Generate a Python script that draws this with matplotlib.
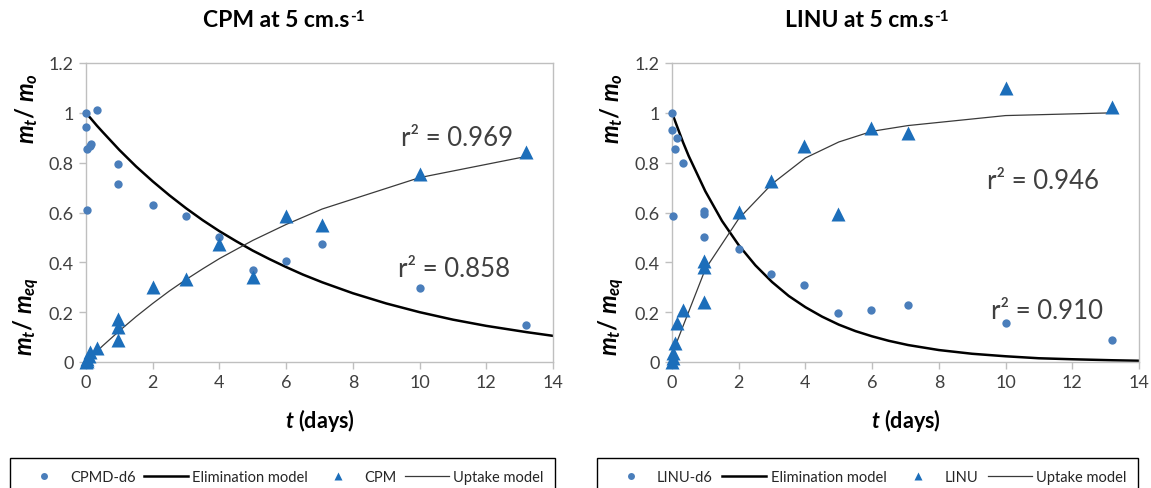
import matplotlib
matplotlib.use("Agg")
import matplotlib.pyplot as plt
from matplotlib.lines import Line2D

plt.rcParams['font.family'] = ['Lato', 'DejaVu Sans']
plt.rcParams['mathtext.fontset'] = 'custom'
plt.rcParams['mathtext.rm'] = 'Lato'
plt.rcParams['mathtext.it'] = 'Lato:italic:bold'
plt.rcParams['mathtext.bf'] = 'Lato:bold'

# ---------------- data: CPM panel ----------------
cpmd_t = [0, 0, 0.04, 0.12, 0.16, 0.32, 0.04, 0.97, 0.97, 2, 3, 4, 5, 6, 7.08, 10, 13.2]
cpmd_y = [1.0, 0.944, 0.856, 0.867, 0.875, 1.013, 0.612, 0.793, 0.713, 0.632, 0.585,
          0.50, 0.368, 0.405, 0.475, 0.297, 0.148]
cpm_t = [0, 0.02, 0.04, 0.08, 0.12, 0.33, 0.97, 0.97, 0.97, 2, 3, 4, 5, 6, 7.08, 10, 13.2]
cpm_y = [0, 0.005, 0.012, 0.025, 0.04, 0.058, 0.172, 0.142, 0.089, 0.303, 0.333,
         0.474, 0.342, 0.584, 0.55, 0.754, 0.843]
cpm_elim_t = [0, 0.33, 0.5, 1, 1.5, 2, 2.5, 3, 3.5, 4, 4.5, 5, 5.5, 6, 6.5, 7.08, 8, 9, 10,
              11, 12, 13.2, 14]
cpm_elim_y = [1.0, 0.948, 0.923, 0.851, 0.785, 0.725, 0.669, 0.617, 0.569, 0.525, 0.485,
              0.447, 0.413, 0.381, 0.351, 0.320, 0.276, 0.235, 0.200, 0.170, 0.145, 0.120, 0.105]
cpm_up_t = [0, 0.33, 0.5, 1, 1.5, 2, 2.5, 3, 3.5, 4, 5, 6, 7.08, 10, 13.2]
cpm_up_y = [0, 0.043, 0.065, 0.125, 0.182, 0.235, 0.285, 0.331, 0.374, 0.415, 0.488,
            0.552, 0.614, 0.740, 0.825]

# ---------------- data: LINU panel ----------------
linud_t = [0, 0, 0.16, 0.08, 0.34, 0.02, 0.97, 0.97, 0.97, 2, 2.97, 3.96, 4.98, 5.97, 7.07, 10, 13.2]
linud_y = [1.0, 0.933, 0.897, 0.854, 0.80, 0.585, 0.608, 0.593, 0.503, 0.452, 0.352,
           0.311, 0.195, 0.207, 0.23, 0.157, 0.087]
linu_t = [0, 0.02, 0.04, 0.08, 0.16, 0.34, 0.97, 0.97, 0.97, 2, 2.97, 3.96, 4.98, 5.97, 7.07, 10, 13.2]
linu_y = [0, 0.015, 0.035, 0.075, 0.156, 0.209, 0.407, 0.38, 0.239, 0.601, 0.725,
          0.868, 0.593, 0.94, 0.92, 1.10, 1.023]
linu_elim_t = [0, 0.33, 0.5, 1, 1.5, 2, 2.5, 3, 3.5, 4, 4.5, 5, 5.5, 6, 6.5, 7.08, 8, 9,
               10, 11, 12, 13.2, 14]
linu_elim_y = [1.0, 0.882, 0.827, 0.685, 0.566, 0.469, 0.388, 0.321, 0.265, 0.220, 0.182,
               0.150, 0.124, 0.103, 0.085, 0.068, 0.048, 0.033, 0.023, 0.015, 0.011, 0.007, 0.005]
linu_up_t = [0.08, 1, 2, 3, 4, 5, 6, 7.08, 10, 13.2]
linu_up_y = [0.058, 0.373, 0.575, 0.715, 0.819, 0.883, 0.926, 0.949, 0.989, 1.0]

x_ticks = [0, 2, 4, 6, 8, 10, 12, 14]
y_ticks = [0, 0.2, 0.4, 0.6, 0.8, 1.0, 1.2]
y_ticklabels = ['0', '0.2', '0.4', '0.6', '0.8', '1', '1.2']

panels = [
    dict(title='CPM at 5 cm.s', d6=(cpmd_t, cpmd_y), par=(cpm_t, cpm_y),
         elim=(cpm_elim_t, cpm_elim_y), up=(cpm_up_t, cpm_up_y),
         r2=[('r² = 0.969', 9.45, 0.903), ('r² = 0.858', 9.35, 0.377)],
         labels=['CPMD-d6', 'Elimination model', 'CPM', 'Uptake model']),
    dict(title='LINU at 5 cm.s', d6=(linud_t, linud_y), par=(linu_t, linu_y),
         elim=(linu_elim_t, linu_elim_y), up=(linu_up_t, linu_up_y),
         r2=[('r² = 0.946', 9.45, 0.727), ('r² = 0.910', 9.55, 0.205)],
         labels=['LINU-d6', 'Elimination model', 'LINU', 'Uptake model']),
]

W, H = 1151, 489
fig = plt.figure(figsize=(W / 100, H / 100), dpi=100)
renderer = fig.canvas.get_renderer()

circ_c = '#4A7EBB'
tri_c = '#1C6EBA'
grid_c = '#BFBFBF'
txt_c = '#404040'

ax_lefts = [86, 672]
legend_boxes = [(10, 555), (597, 1138)]
title_cx = [276, 859]
ylab_x = [27, 612]

for i, p in enumerate(panels):
    ax = fig.add_axes([ax_lefts[i] / W, 126 / H, 467 / W, 299 / H])
    ax.plot(p['elim'][0], p['elim'][1], color='black', lw=1.8, zorder=2)
    ax.plot(p['up'][0], p['up'][1], color='#3A3A3A', lw=0.9, zorder=2)
    ax.plot(p['d6'][0], p['d6'][1], 'o', color=circ_c, ms=6, mec='none', clip_on=False, zorder=3)
    ax.plot(p['par'][0], p['par'][1], '^', color=tri_c, ms=10.5, mec='none', clip_on=False, zorder=3)
    ax.set_xlim(0, 14)
    ax.set_ylim(0, 1.2)
    ax.set_xticks(x_ticks)
    ax.set_xticklabels([str(v) for v in x_ticks])
    ax.set_yticks(y_ticks)
    ax.set_yticklabels(y_ticklabels)
    for s in ax.spines.values():
        s.set_color(grid_c)
        s.set_linewidth(1.0)
    ax.tick_params(direction='out', length=5, width=1, color=grid_c, labelcolor=txt_c,
                   labelsize=13, pad=4)
    ax.set_xlabel(r'$t$ (days)', fontsize=15.5, fontweight='bold', color='black', labelpad=11)
    for (txt, tx, ty) in p['r2']:
        ax.text(tx, ty, txt, fontsize=18.5, color=txt_c, va='center', ha='left')

    # title with superscript -1
    tt = fig.text(title_cx[i] / W, 1 - 27 / H, p['title'], fontsize=16.5, fontweight='bold',
                  ha='center', va='baseline')
    bb = tt.get_window_extent(renderer)
    fig.text((bb.x1 + 1) / W, (bb.y0 + 10) / H, '-1', fontsize=11, fontweight='bold',
             ha='left', va='baseline')

    fig.text(ylab_x[i] / W, 1 - 108 / H, r'$m_t$/ $m_o$', fontsize=17, fontweight='bold',
             rotation=90, ha='center', va='center')
    fig.text(ylab_x[i] / W, 1 - 316 / H, r'$m_t$/ $m_{eq}$', fontsize=17, fontweight='bold',
             rotation=90, ha='center', va='center')

    handles = [
        Line2D([], [], ls='none', marker='o', color=circ_c, ms=5, mec='none'),
        Line2D([], [], color='black', lw=1.8),
        Line2D([], [], ls='none', marker='^', color=tri_c, ms=6, mec='none'),
        Line2D([], [], color='#3A3A3A', lw=0.9),
    ]
    x0, x1 = legend_boxes[i]
    leg = fig.legend(handles, p['labels'], loc='upper left', ncol=4, mode='expand',
                     bbox_to_anchor=(x0 / W, 1 - 459 / H, (x1 - x0) / W, 0),
                     fontsize=10.5, frameon=True, fancybox=False, framealpha=1,
                     edgecolor='black', handlelength=3, handletextpad=0.3,
                     borderpad=0.8, borderaxespad=0)
    leg.get_frame().set_linewidth(1.0)
    for t in leg.get_texts():
        t.set_color('#262626')

fig.savefig('out.png', dpi=100)
